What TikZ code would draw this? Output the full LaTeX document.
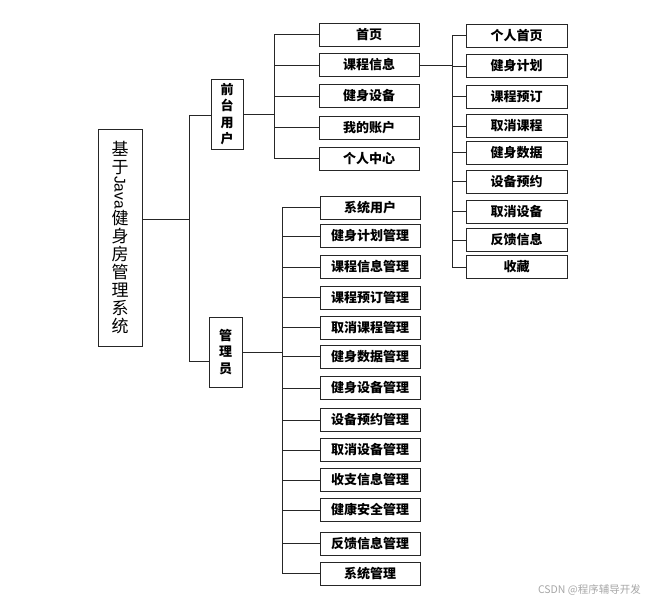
\documentclass[tikz,border=0pt]{standalone}
\usepackage{fontspec}
\setmainfont{Liberation Sans}
\newfontfamily\cjk{Noto Sans CJK SC}
\newfontfamily\javafont{Liberation Sans}
\begin{document}
\begin{tikzpicture}[x=1bp,y=-1bp,
  line/.style={line width=0.8bp, draw=black!85},
  leaf/.style={draw=black!85, line width=0.9bp, minimum width=100bp, minimum height=23bp, inner sep=0pt,
    font=\cjk\bfseries\fontsize{13bp}{15bp}\selectfont},
  sub/.style={leaf, minimum width=101bp},
  midbox/.style={draw=black!85, line width=0.9bp, inner sep=0pt, minimum width=32bp, minimum height=70bp, align=center,
    font=\cjk\bfseries\fontsize{13bp}{16.5bp}\selectfont},
  rootbox/.style={draw=black!85, line width=0.9bp, inner sep=0pt, minimum width=44bp, minimum height=217bp, align=center,
    font=\cjk\fontsize{17bp}{18bp}\selectfont},
  wmark/.style={font=\cjk\fontsize{10.5bp}{12bp}\selectfont, text=black!35, inner sep=0pt}
]
\useasboundingbox (0,0) rectangle (648,602);

% root
\node[rootbox] (root) at (120,237.5) {基\\于\\\rotatebox[origin=c]{-90}{\javafont\fontsize{15.5bp}{15.5bp}\selectfont Java}\\健\\身\\房\\管\\理\\系\\统};

% second level
\node[midbox] (front) at (227,114) {前\\台\\用\\户};
\node[midbox, minimum width=33bp] (admin) at (225.5,352) {管\\理\\员};

% front user leaves
\node[leaf] (f1) at (369,34.5) {首页};
\node[leaf] (f2) at (369,65) {课程信息};
\node[leaf] (f3) at (369,96) {健身设备};
\node[leaf] (f4) at (369,127.5) {我的账户};
\node[leaf] (f5) at (369,158.5) {个人中心};

% course info sub leaves
\node[sub] (s1) at (516.5,35.5) {个人首页};
\node[sub] (s2) at (516.5,66) {健身计划};
\node[sub] (s3) at (516.5,96.5) {课程预订};
\node[sub] (s4) at (516.5,126) {取消课程};
\node[sub] (s5) at (516.5,152.5) {健身数据};
\node[sub] (s6) at (516.5,181.5) {设备预约};
\node[sub] (s7) at (516.5,211.5) {取消设备};
\node[sub] (s8) at (516.5,240) {反馈信息};
\node[sub] (s9) at (516.5,267) {收藏};

% admin leaves
\node[leaf] (a1) at (370,207.5) {系统用户};
\node[leaf] (a2) at (370,236) {健身计划管理};
\node[leaf] (a3) at (370,267) {课程信息管理};
\node[leaf] (a4) at (370,297.5) {课程预订管理};
\node[leaf] (a5) at (370,327.5) {取消课程管理};
\node[leaf] (a6) at (370,356.5) {健身数据管理};
\node[leaf] (a7) at (370,388) {健身设备管理};
\node[leaf] (a8) at (370,420) {设备预约管理};
\node[leaf] (a9) at (370,450) {取消设备管理};
\node[leaf] (a10) at (370,480) {收支信息管理};
\node[leaf] (a11) at (370,510) {健康安全管理};
\node[leaf] (a12) at (370,543.5) {反馈信息管理};
\node[leaf] (a13) at (370,573.5) {系统管理};

% joints
\coordinate (rj) at (189,219);
\coordinate (t1) at (189,115);
\coordinate (t2) at (189,361);
\coordinate (fx) at (274,0);
\coordinate (sx) at (452,0);
\coordinate (ax) at (282,0);

% root connectors
\draw[line] (root.east |- rj) -- (rj);
\draw[line] (t1) -- (t2);
\draw[line] (t1) -- (t1 -| front.west);
\draw[line] (t2) -- (t2 -| admin.west);

% front connectors
\draw[line] (front.east) -- (front.east -| fx);
\draw[line] (f1.west -| fx) -- (f5.west -| fx);
\foreach \i in {1,...,5} \draw[line] (f\i.west -| fx) -- (f\i.west);

% sub connectors
\draw[line] (f2.east) -- (f2.east -| sx);
\draw[line] (s1.west -| sx) -- (s9.west -| sx);
\foreach \i in {1,...,9} \draw[line] (s\i.west -| sx) -- (s\i.west);

% admin connectors
\draw[line] (admin.east) -- (admin.east -| ax);
\draw[line] (a1.west -| ax) -- (a13.west -| ax);
\foreach \i in {1,...,13} \draw[line] (a\i.west -| ax) -- (a\i.west);

% watermark
\node[wmark, anchor=east] (wm) at (641,590) {CSDN @程序辅导开发};
\end{tikzpicture}
\end{document}
